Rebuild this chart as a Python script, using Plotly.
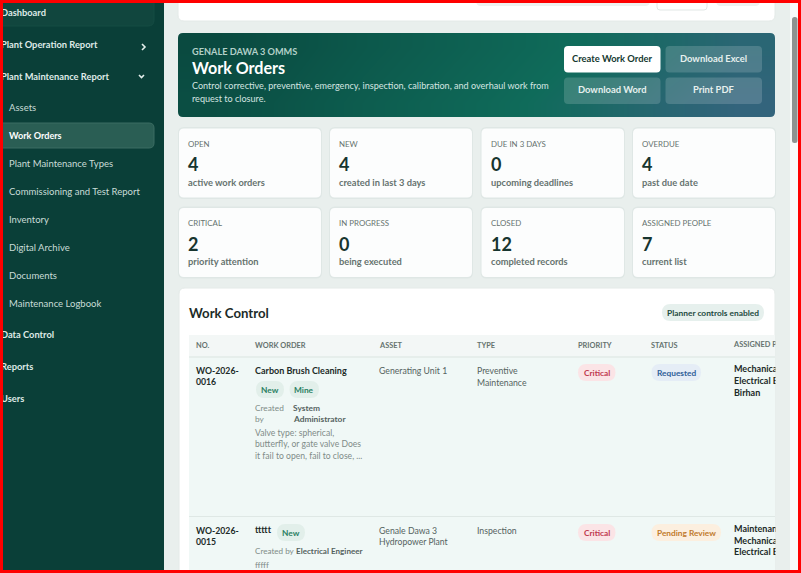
import plotly.graph_objects as go

# ---------- content ----------
NAV_TOP = ["Dashboard", "Plant Operation Report", "Plant Maintenance Report"]
NAV_SUB = ["Assets", "Work Orders", "Plant Maintenance Types", "Commissioning and Test Report",
           "Inventory", "Digital Archive", "Documents", "Maintenance Logbook"]
NAV_BOTTOM = ["Data Control", "Reports", "Users"]

BANNER_EYEBROW = "GENALE DAWA 3 OMMS"
BANNER_TITLE = "Work Orders"
BANNER_LINES = ["Control corrective, preventive, emergency, inspection, calibration, and overhaul work from",
                "request to closure."]
BUTTONS = ["Create Work Order", "Download Excel", "Download Word", "Print PDF"]

STAT_LABELS = ["OPEN", "NEW", "DUE IN 3 DAYS", "OVERDUE", "CRITICAL", "IN PROGRESS", "CLOSED", "ASSIGNED PEOPLE"]
STAT_VALUES = [4, 4, 0, 4, 2, 0, 12, 7]
STAT_NOTES = ["active work orders", "created in last 3 days", "upcoming deadlines", "past due date",
              "priority attention", "being executed", "completed records", "current list"]

TABLE_HEADERS = ["NO.", "WORK ORDER", "ASSET", "TYPE", "PRIORITY", "STATUS", "ASSIGNED PEOPLE"]

# banner gradient stops (0 dark green, 1 slate blue), read by eye
GRADIENT_Z = [[0.00, 0.12, 0.26, 0.38, 0.50, 0.62, 0.76, 0.90],
              [0.04, 0.16, 0.30, 0.42, 0.54, 0.66, 0.82, 0.95],
              [0.08, 0.20, 0.34, 0.46, 0.58, 0.72, 0.88, 1.00]]

FONT = "Lato, Noto Sans, sans-serif"
shapes, notes = [], []


def rr(x0, y0, x1, y1, r, fill, line=None, layer="below", lw=1):
    p = (f"M{x0+r},{y0} L{x1-r},{y0} Q{x1},{y0} {x1},{y0+r} L{x1},{y1-r} Q{x1},{y1} {x1-r},{y1} "
         f"L{x0+r},{y1} Q{x0},{y1} {x0},{y1-r} L{x0},{y0+r} Q{x0},{y0} {x0+r},{y0} Z")
    shapes.append(dict(type="path", path=p, xref="x", yref="y", fillcolor=fill, layer=layer,
                       line=dict(color=line or "rgba(0,0,0,0)", width=lw if line else 0)))


def rect(x0, y0, x1, y1, fill, layer="below"):
    shapes.append(dict(type="rect", x0=x0, y0=y0, x1=x1, y1=y1, xref="x", yref="y", fillcolor=fill,
                       layer=layer, line=dict(width=0)))


def txt(x, y, s, size, color, weight=400, anchor="left"):
    notes.append(dict(x=x, y=y, xref="x", yref="y", text=s, showarrow=False, xanchor=anchor, yanchor="middle",
                      borderpad=0, borderwidth=0,
                      font=dict(family=FONT, size=size, color=color, weight=weight)))


def badge(x0, x1, y0, label, bg, fg, size=8.3):
    rr(x0, y0, x1, y0 + 17, 8.5, bg)
    txt((x0 + x1) / 2, y0 + 8.5, label, size, fg, 700, "center")


# ---------- page + sidebar ----------
MAIN_BG = "#e9efed"
rect(163, 0, 791, 573, MAIN_BG)
rect(0, 0, 164, 573, "#0a3f38")
rr(-6, -10, 154, 26, 6, "#11463e", "#154c43")
rr(-6, 123, 154, 148, 5, "#2a5e54", "#3a6c62")

# chevrons
shapes.append(dict(type="path", path="M142,44 L145,47 L142,50", xref="x", yref="y", layer="below",
                   line=dict(color="#e4efec", width=1.6)))
shapes.append(dict(type="path", path="M139,75 L141.5,77.5 L144,75", xref="x", yref="y", layer="below",
                   line=dict(color="#e4efec", width=1.6)))

for y, label in zip([107.5, 135.5, 163.5, 191.5, 219.5, 247.5, 275.5, 303.5], NAV_SUB):
    active = label == "Work Orders"
    txt(8.5, y, label, 9.1 if active else 9.5, "#ffffff" if active else "#c9dcd7", 700 if active else 400)

# ---------- top card ----------
rr(178, -20, 775, 21, 6, "#ffffff", "#e4eae8")
rr(476, -10, 650, 6, 5, "#eef1f0")
rr(657, -10, 707, 10, 3, "#ffffff", "#e2e7e5")
rect(682, 0, 686, 2, "#555f5c")
rr(716, -10, 760, 6, 5, "#eef1f0")

# ---------- stat cards ----------
CARD_X = [(179, 321), (330, 472), (481.5, 624), (633, 775)]
CARD_Y = [(128.5, 197.5), (208, 277)]
for i, (lab, val, note) in enumerate(zip(STAT_LABELS, STAT_VALUES, STAT_NOTES)):
    x0, x1 = CARD_X[i % 4]
    y0, y1 = CARD_Y[i // 4]
    rr(x0 - 1, y0 - 1.5, x1 + 1, y1 + 1.5, 6, "#dfe7e5")
    rr(x0, y0, x1, y1, 5, "#fcfdfd")
    txt(x0 + 9, y0 + 15, lab, 7.9, "#66736f", 400)
    txt(x0 + 9, y0 + 35.5, str(val), 18, "#17352f", 700)
    txt(x0 + 9, y0 + 53.5, note, 9.3, "#66736f", 700)

# ---------- work control card + table ----------
rr(179, 288, 775, 600, 6, "#ffffff", "#e4eae8")
txt(189, 313, "Work Control", 13.2, "#1c2b28", 700)
rr(662, 304, 764, 321, 8.5, "#e6f0ed")
txt(713, 312.5, "Planner controls enabled", 8.4, "#1d4a40", 700, "center")

rect(189, 335, 775, 356, "#f3f7f6")
rect(189, 356, 775, 358, "#e6eeeb")
rect(189, 358, 775, 516, "#f0f8f6")
rect(189, 516, 775, 517, "#dfe8e5")
rect(189, 517, 775, 580, "#f0f8f6")

HEAD_X = [196, 255, 379, 477, 578, 651]
for x, h in zip(HEAD_X, TABLE_HEADERS):
    txt(x, 345.5, h, 7.4, "#66736f", 700)

DARK, GREY, MUTE = "#1c2b28", "#55635f", "#7f8c88"
# row 1
txt(196, 370, "WO-2026-", 8.7, DARK, 700)
txt(196, 381.5, "0016", 8.7, DARK, 700)
txt(255, 370, "Carbon Brush Cleaning", 9, DARK, 700)
badge(256, 284, 381, "New", "#e2efea", "#2a8062")
badge(289.5, 319, 381, "Mine", "#e2efea", "#2a8062")
txt(255, 408, "Created", 8.3, MUTE)
txt(255, 418.5, "by", 8.3, MUTE)
txt(292.5, 408, "System", 8.4, "#55635f", 700)
txt(292.5, 418.5, "Administrator", 8.4, "#55635f", 700)
txt(255, 432.5, "Valve type: spherical,", 8.6, MUTE)
txt(255, 444, "butterfly, or gate valve Does", 8.6, MUTE)
txt(255, 455.5, "it fail to open, fail to close, ...", 8.6, MUTE)
txt(379, 370, "Generating Unit 1", 8.7, GREY)
txt(477, 370, "Preventive", 8.7, GREY)
txt(477, 382, "Maintenance", 8.7, GREY)
badge(578, 615.5, 364, "Critical", "#fbe4e6", "#c0394e")
badge(651.5, 701, 364, "Requested", "#e5edf6", "#2f6098")
# row 2
txt(196, 530, "WO-2026-", 8.7, DARK, 700)
txt(196, 541.5, "0015", 8.7, DARK, 700)
txt(255, 529.5, "ttttt", 9, DARK, 700)
badge(277, 305, 524, "New", "#e2efea", "#2a8062")
txt(255, 551, "Created by", 8.1, MUTE)
txt(296, 551, "Electrical Engineer", 8.1, "#55635f", 700)
txt(255, 565, "fffff", 8.3, MUTE)
txt(379, 530, "Genale Dawa 3", 8.7, GREY)
txt(379, 541.5, "Hydropower Plant", 8.6, GREY)
txt(477, 530, "Inspection", 8.7, GREY)
badge(578, 615.5, 524, "Critical", "#fbe4e6", "#c0394e")
badge(651.5, 721, 524, "Pending Review", "#fcefdf", "#c07a2c")

# ---------- hero banner ----------
BX0, BX1, BY0, BY1 = 178, 775, 33, 117
n_c, n_r = len(GRADIENT_Z[0]), len(GRADIENT_Z)
dx, dy = (BX1 - BX0) / n_c, (BY1 - BY0) / n_r
heat = go.Heatmap(z=GRADIENT_Z, x0=BX0 + dx / 2, dx=dx, y0=BY0 + dy / 2, dy=dy, zsmooth="best", showscale=False,
                  hoverinfo="skip", zmin=0, zmax=1,
                  colorscale=[[0, "#0a4a40"], [0.6, "#0f6b5a"], [1, "#33647c"]])
r = 5
for cx, cy, sx, sy in [(BX0, BY0, 1, 1), (BX1, BY0, -1, 1), (BX0, BY1, 1, -1), (BX1, BY1, -1, -1)]:
    shapes.append(dict(type="path", xref="x", yref="y", layer="above", fillcolor=MAIN_BG, line=dict(width=0),
                       path=f"M{cx-sx},{cy-sy} L{cx+sx*r},{cy-sy} L{cx+sx*r},{cy} Q{cx},{cy} {cx},{cy+sy*r} "
                            f"L{cx-sx},{cy+sy*r} Z"))
txt(192, 51.5, BANNER_EYEBROW, 9.2, "#b3d0c8", 700)
txt(192, 67.5, BANNER_TITLE, 16.1, "#ffffff", 700)
txt(192, 85.5, BANNER_LINES[0], 9.07, "#d5e5e1")
txt(192, 98.5, BANNER_LINES[1], 9.07, "#d5e5e1")
BTN_X = [(564, 660.5), (665.5, 762), (564, 660.5), (665.5, 762)]
BTN_Y = [(46, 72.5), (46, 72.5), (77.5, 104), (77.5, 104)]
for i, (label, (x0, x1), (y0, y1)) in enumerate(zip(BUTTONS, BTN_X, BTN_Y)):
    rr(x0, y0, x1, y1, 4, "#ffffff" if i == 0 else "rgba(255,255,255,0.16)", layer="above")
    txt((x0 + x1) / 2, (y0 + y1) / 2 - 0.8, label, 9.4, "#14382f" if i == 0 else "#e6f0ee", 700, "center")

# ---------- text that the window or a card clips ----------
cl_x = [1, 1, 1, 1, 1, 1]
cl_y = [13.5, 45.5, 77.5, 335.5, 367.5, 399.5]
edge_labels = NAV_TOP + NAV_BOTTOM
nav_clip = go.Scatter(x=cl_x, y=cl_y, text=edge_labels, mode="text", textposition="middle right", hoverinfo="skip",
                      showlegend=False, textfont=dict(family=FONT, size=9.3, color="#dfeae7", weight=700))
ASSIGNED_1 = ["Mechanical Engineer", "Electrical Engineer", "Birhan"]
ASSIGNED_2 = ["Maintenance Planner", "Mechanical Engineer", "Electrical Engineer"]
as_y = [370, 381.5, 393.5, 530, 541.5, 553]
assigned = go.Scatter(x=[734] * 6, y=as_y, text=ASSIGNED_1 + ASSIGNED_2, mode="text", textposition="middle right",
                      hoverinfo="skip", showlegend=False,
                      textfont=dict(family=FONT, size=9, color=DARK, weight=700))
head_clip = go.Scatter(x=[734], y=[345.5], text=[TABLE_HEADERS[6]], mode="text", textposition="middle right",
                       hoverinfo="skip", showlegend=False,
                       textfont=dict(family=FONT, size=7.4, color="#66736f", weight=700))

# covers + scrollbar + frame
rect(775.5, 288, 791, 573, MAIN_BG, "above")
rect(790, 0, 801, 573, "#f8f9f9", "above")
rr(792, 17, 797.5, 143, 2.5, "#8e9291", layer="above")
rect(0, 0, 801, 3, "#ff0000", "above")
rect(0, 570, 801, 573, "#ff0000", "above")
rect(0, 0, 3, 573, "#ff0000", "above")
rect(798, 0, 801, 573, "#ff0000", "above")

fig = go.Figure([heat, nav_clip, assigned, head_clip])
fig.update_layout(width=801, height=573, margin=dict(l=0, r=0, t=0, b=0), autosize=False,
                  paper_bgcolor=MAIN_BG, plot_bgcolor=MAIN_BG, showlegend=False,
                  shapes=shapes, annotations=notes, font=dict(family=FONT),
                  xaxis=dict(range=[0, 801], visible=False, fixedrange=True),
                  yaxis=dict(range=[573, 0], visible=False, fixedrange=True))
fig.write_html("out.html", config={"displayModeBar": False},
               post_script="document.body.style.margin='0';document.body.style.overflow='hidden';")
